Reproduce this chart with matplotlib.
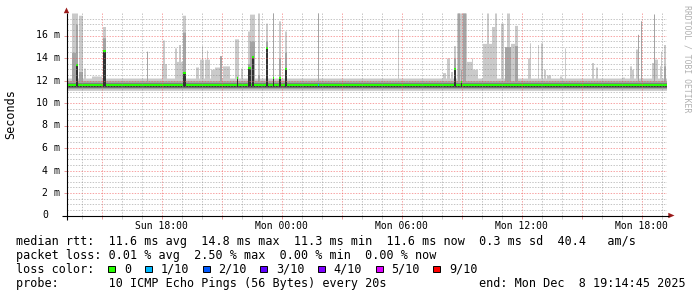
import numpy as np
import pandas as pd
import matplotlib
matplotlib.use("Agg")
import matplotlib.pyplot as plt
import matplotlib.dates as mdates
from matplotlib.patches import Rectangle, Polygon
from matplotlib.transforms import blended_transform_factory

# ---------------- data ----------------
START = pd.Timestamp("2025-12-07 13:14:45")
END = pd.Timestamp("2025-12-08 19:14:45")
STEP = pd.Timedelta(minutes=3)

# ten pings of a quiet step, lowest to highest (ms)
base_pings = [11.12, 11.28, 11.38, 11.44, 11.46, 11.67, 11.72, 11.82, 11.98, 12.22]
base_median = 11.56

nan = float("nan")
spike_start = [
    "2025-12-07 13:30", "2025-12-07 13:42", "2025-12-07 13:51", "2025-12-07 14:06",
    "2025-12-07 14:30", "2025-12-07 15:03", "2025-12-07 17:15", "2025-12-07 18:00",
    "2025-12-07 18:03", "2025-12-07 18:39", "2025-12-07 18:45", "2025-12-07 18:51",
    "2025-12-07 19:03", "2025-12-07 19:42", "2025-12-07 19:54", "2025-12-07 20:00",
    "2025-12-07 20:09", "2025-12-07 20:15", "2025-12-07 20:27", "2025-12-07 20:39",
    "2025-12-07 20:54", "2025-12-07 21:03", "2025-12-07 21:39", "2025-12-07 21:45",
    "2025-12-07 21:57", "2025-12-07 22:18", "2025-12-07 22:24", "2025-12-07 22:27",
    "2025-12-07 22:30", "2025-12-07 22:48", "2025-12-07 23:12", "2025-12-07 23:33",
    "2025-12-07 23:51", "2025-12-08 00:09", "2025-12-08 01:48", "2025-12-08 05:48",
    "2025-12-08 08:03", "2025-12-08 08:15", "2025-12-08 08:27", "2025-12-08 08:36",
    "2025-12-08 08:45", "2025-12-08 08:48", "2025-12-08 08:57", "2025-12-08 09:03",
    "2025-12-08 09:09", "2025-12-08 09:27", "2025-12-08 09:30", "2025-12-08 10:03",
    "2025-12-08 10:15", "2025-12-08 10:30", "2025-12-08 10:39", "2025-12-08 10:57",
    "2025-12-08 11:09", "2025-12-08 11:15", "2025-12-08 11:27", "2025-12-08 11:39",
    "2025-12-08 12:18", "2025-12-08 12:24", "2025-12-08 12:48", "2025-12-08 12:57",
    "2025-12-08 13:06", "2025-12-08 13:15", "2025-12-08 13:54", "2025-12-08 14:09",
    "2025-12-08 15:30", "2025-12-08 15:42", "2025-12-08 17:00", "2025-12-08 17:24",
    "2025-12-08 17:30", "2025-12-08 17:42", "2025-12-08 17:48", "2025-12-08 17:57",
    "2025-12-08 18:30", "2025-12-08 18:36", "2025-12-08 18:39", "2025-12-08 18:54",
    "2025-12-08 18:57", "2025-12-08 19:06",
]
spike_minutes = [
    12, 6, 12, 6,
    30, 9, 3, 15,
    6, 6, 18, 6,
    9, 9, 12, 3,
    15, 3, 15, 15,
    6, 21, 12, 3,
    6, 6, 3, 12,
    6, 6, 6, 3,
    6, 6, 3, 3,
    9, 9, 6, 6,
    30, 6, 3, 9,
    21, 21, 3, 27,
    6, 15, 6, 9,
    18, 9, 12, 9,
    9, 3, 3, 6,
    6, 12, 6, 3,
    6, 6, 9, 6,
    6, 6, 3, 3,
    6, 3, 9, 6,
    3, 6,
]
# highest ping (top of the lightest smoke)
spike_max = [
    18.0, 18.0, 17.8, 13.1,
    12.4, 16.8, 14.6, 13.5,
    15.6, 14.9, 13.7, 15.2,
    17.8, 13.2, 13.9, 15.1,
    13.9, 14.7, 13.0, 13.2,
    14.2, 13.3, 15.7, 15.7,
    13.1, 16.4, 17.9, 17.9,
    17.9, 18.0, 17.1, 18.0,
    17.3, 16.4, 18.0, 16.6,
    12.7, 14.0, 12.8, 15.1,
    18.0, 18.0, 18.0, 18.0,
    13.7, 13.0, 14.0, 15.3,
    18.0, 16.8, 18.0, 17.1,
    15.0, 18.0, 15.3, 16.9,
    14.0, 15.35, 15.2, 15.35,
    13.0, 12.5, 12.4, 14.9,
    13.6, 13.2, 12.3, 13.3,
    13.0, 14.8, 16.1, 17.3,
    13.6, 17.9, 13.9, 13.3,
    14.6, 15.2,
]
# second highest ping (top of the darker smoke)
spike_upper = [
    14.5, 17.0, 12.8, nan,
    nan, 15.8, 14.6, nan,
    nan, nan, nan, nan,
    16.3, nan, nan, nan,
    nan, nan, nan, nan,
    14.2, nan, nan, 12.4,
    nan, 13.5, 15.5, 15.5,
    15.5, 12.5, 15.5, 18.0,
    14.0, 14.5, 18.0, nan,
    nan, nan, nan, 14.0,
    nan, 18.0, 13.0, 18.0,
    nan, nan, nan, nan,
    nan, nan, nan, nan,
    15.0, nan, nan, 15.1,
    nan, nan, nan, nan,
    nan, nan, nan, nan,
    nan, nan, nan, nan,
    nan, nan, 16.1, 17.3,
    nan, 17.9, nan, nan,
    nan, 13.3,
]
# median rtt during the spike (nan = unchanged)
spike_median = [
    nan, 13.4, nan, nan,
    nan, 14.6, nan, nan,
    nan, nan, nan, nan,
    12.7, nan, nan, nan,
    nan, nan, nan, nan,
    nan, nan, nan, 12.2,
    nan, 13.1, 13.1, nan,
    14.1, nan, 14.9, 12.2,
    12.2, 13.05, nan, nan,
    nan, nan, nan, 13.0,
    nan, nan, 11.9, nan,
    nan, nan, nan, nan,
    nan, nan, nan, nan,
    nan, nan, nan, nan,
    nan, nan, nan, nan,
    nan, nan, nan, nan,
    nan, nan, nan, nan,
    nan, nan, nan, nan,
    nan, nan, nan, nan,
    nan, nan,
]

loss_time = ["2025-12-08 01:48"]
loss_tenths = [1]

loss_levels = ["0", "1/10", "2/10", "3/10", "4/10", "5/10", "9/10"]
loss_colors = ["#26ff00", "#00b8ff", "#0059ff", "#5e00ff", "#7e00ff", "#dd00ff", "#ff0000"]
loss_tenth_keys = [0, 1, 2, 3, 4, 5, 9]

y_ticks = [0, 2, 4, 6, 8, 10, 12, 14, 16]
y_labels = ["0", "2 m", "4 m", "6 m", "8 m", "10 m", "12 m", "14 m", "16 m"]

legend_lines = [
    "median rtt:  11.6 ms avg  14.8 ms max  11.3 ms min  11.6 ms now  0.3 ms sd  40.4   am/s",
    "packet loss: 0.01 % avg  2.50 % max  0.00 % min  0.00 % now",
    "loss color:",
    "probe:       10 ICMP Echo Pings (56 Bytes) every 20s",
]
end_text = "end: Mon Dec  8 19:14:45 2025"

# ---------------- build per-step pings ----------------
n = int(round((END - START) / STEP))
pings = np.tile(np.array(base_pings, dtype=float), (n, 1))
median = np.full(n, base_median)
loss = np.zeros(n, dtype=int)

for ts, dur, mx, up, md in zip(spike_start, spike_minutes, spike_max, spike_upper, spike_median):
    k0 = int(round((pd.Timestamp(ts) - START) / STEP))
    k1 = min(n, k0 + max(1, int(round(dur / 3))))
    if k0 >= n:
        continue
    pings[k0:k1, 9] = np.maximum(pings[k0:k1, 9], mx)
    if not np.isnan(up):
        pings[k0:k1, 8] = np.maximum(pings[k0:k1, 8], up)
    if not np.isnan(md):
        pings[k0:k1, 5:8] = np.maximum(pings[k0:k1, 5:8], md)
        median[k0:k1] = np.maximum(median[k0:k1], md)
pings = np.sort(pings, axis=1)

for ts, lt in zip(loss_time, loss_tenths):
    k = int(round((pd.Timestamp(ts) - START) / STEP))
    loss[k] = lt

times = [START + i * STEP for i in range(n + 1)]
xe = mdates.date2num([t.to_pydatetime() for t in times])

# ---------------- figure ----------------
W, H = 697, 297
fig = plt.figure(figsize=(W / 100, H / 100), dpi=100)
fig.patch.set_facecolor("white")
ax = fig.add_axes([66.5 / W, (H - 215.5) / H, 600 / W, 202.5 / H])
ax.set_facecolor("white")
for s in ax.spines.values():
    s.set_visible(False)
ax.set_xlim(xe[0], xe[-1])
ax.set_ylim(0, 18)

# smoke: outer band lightest, inner band darkest
greys = ["#cacaca", "#a4a4a4", "#7e7e7e", "#585858", "#323232"]
for i in range(5):
    lo = np.append(pings[:, i], pings[-1, i])
    hi = np.append(pings[:, 9 - i], pings[-1, 9 - i])
    ax.fill_between(xe, lo, hi, step="post", color=greys[i], lw=0, zorder=2)

# median line coloured by loss
cmap = dict(zip(loss_tenth_keys, loss_colors))
cols = [cmap[int(l)] for l in loss]
ax.hlines(median, xe[:-1], xe[1:], colors=cols, lw=1.5, zorder=4, capstyle="butt")

# grid (drawn over the data, as rrdtool does)
minor_c = (0.55, 0.55, 0.55, 0.5)
major_c = (0.95, 0.35, 0.35, 0.55)
first_hour = START.ceil("h")
hours = pd.date_range(first_hour, END, freq="1h")
for h in hours:
    xv = mdates.date2num(h.to_pydatetime())
    c = major_c if h.hour % 3 == 0 else minor_c
    ax.axvline(xv, color=c, lw=0.72, ls=(0, (1.4, 1.4)), zorder=5)
for v in np.arange(0.5, 18.0, 0.5):
    c = major_c if (abs(v - round(v)) < 1e-6 and int(round(v)) % 2 == 0) else minor_c
    ax.axhline(v, color=c, lw=0.72, ls=(0, (1.4, 1.4)), zorder=5)

# x ticks
major_ticks = [h for h in hours if h.hour % 3 == 0]
ax.set_xticks([mdates.date2num(h.to_pydatetime()) for h in major_ticks])
ax.set_xticklabels([h.strftime("%a %H:%M") if h.hour % 6 == 0 else "" for h in major_ticks],
                   fontfamily="DejaVu Sans Mono", fontsize=7)
ax.set_xticks([mdates.date2num(h.to_pydatetime()) for h in hours], minor=True)
ax.tick_params(axis="x", which="major", length=2.2, width=0.72, color="#e89a9a", pad=2.0)
ax.tick_params(axis="x", which="minor", length=2.2, width=0.72, color="#c8c8c8")
ax.set_yticks(y_ticks)
ax.set_yticklabels([])
ax.tick_params(axis="y", which="major", length=2.2, width=0.72, color="#e89a9a")

# overlay in pixel coordinates
ov = fig.add_axes([0, 0, 1, 1], zorder=10)
ov.set_xlim(0, W)
ov.set_ylim(H, 0)
ov.axis("off")
ov.patch.set_alpha(0)

# y tick labels
bt = blended_transform_factory(ov.transData, ax.transData)
for v, lab in zip(y_ticks, y_labels):
    xr = 48.5 if lab == "0" else 60.5
    ax.text(xr, v, lab, transform=bt, ha="right", va="center",
            fontfamily="DejaVu Sans Mono", fontsize=7.1, color="black", clip_on=False)

# axes lines and arrows
ov.plot([66.5, 66.5], [220, 13], color="black", lw=0.8, solid_capstyle="butt")
ov.plot([62, 668.5], [215.5, 215.5], color="black", lw=0.8, solid_capstyle="butt")
arrow_c = "#9a1a1a"
ov.add_patch(Polygon([[66.5, 7.5], [63.8, 13.2], [69.2, 13.2]], closed=True, color=arrow_c, lw=0))
ov.add_patch(Polygon([[674.5, 215.5], [668.3, 212.8], [668.3, 218.2]], closed=True, color=arrow_c, lw=0))

# axis title and watermark
ov.text(10.5, 114, "Seconds", rotation=90, ha="center", va="center",
        fontfamily="DejaVu Sans Mono", fontsize=8.5, color="black")
ov.text(687.5, 59, "RRDTOOL / TOBI OETIKER", rotation=270, ha="center", va="center",
        fontfamily="DejaVu Sans Mono", fontsize=5.9, color="#b0b0b0")

# legend text
baselines = [245, 259, 272.8, 286.7]
for txt, yb in zip(legend_lines, baselines):
    ov.text(16, yb, txt, ha="left", va="baseline",
            fontfamily="DejaVu Sans Mono", fontsize=8.5, color="black")
ov.text(478.7, baselines[3], end_text, ha="left", va="baseline",
        fontfamily="DejaVu Sans Mono", fontsize=8.5, color="black")

# loss colour boxes
cw = 7.0
xb = 108.3
for lab, col in zip(loss_levels, loss_colors):
    ov.add_patch(Rectangle((xb, 265.5), 6.8, 6.8, facecolor=col, edgecolor="black", lw=0.7))
    xt = xb + 15.7
    ov.text(xt, baselines[2], lab, ha="left", va="baseline",
            fontfamily="DejaVu Sans Mono", fontsize=8.5, color="black")
    xb = xt + len(lab) * cw + 14.0

fig.savefig("out.png", dpi=100, facecolor="white")
